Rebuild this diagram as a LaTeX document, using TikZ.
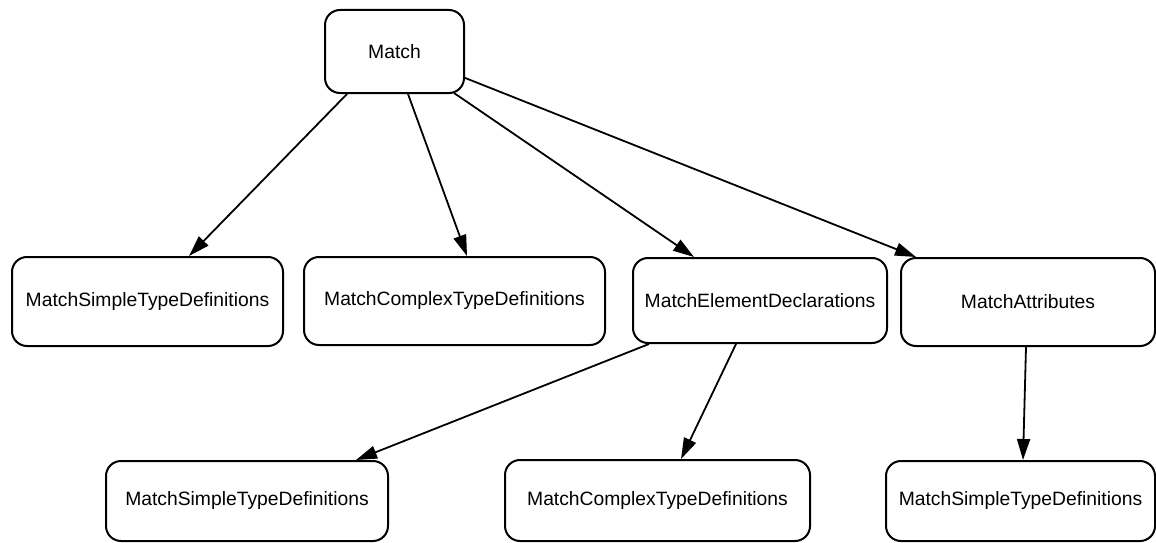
\documentclass[tikz,border=0pt]{standalone}
\usepackage{fontspec}
\setmainfont{Liberation Sans}
\usetikzlibrary{arrows.meta,calc}

\tikzset{
  box/.style={draw=black, line width=2pt, rounded corners=15pt,
              inner sep=0pt, font=\fontsize{19.3}{22}\selectfont,
              align=center},
  link/.style={line width=1.8pt, -{Triangle[length=21pt,width=13pt]}}
}

\begin{document}
\begin{tikzpicture}[x=1pt,y=-1pt]
  \useasboundingbox (0,0) rectangle (1156,543);

  % root
  \node[box, minimum width=139pt, minimum height=83pt] (m) at (394.5,51.5) {Match};

  % second level
  \node[box, minimum width=271pt, minimum height=89pt] (s1) at (147.5,301.5) {MatchSimpleTypeDefinitions};
  \node[box, minimum width=301pt, minimum height=88pt] (c1) at (454.5,301) {MatchComplexTypeDefinitions};
  \node[box, minimum width=254pt, minimum height=85pt] (e1) at (760,300.5) {MatchElementDeclarations};
  \node[box, minimum width=254pt, minimum height=88pt] (a1) at (1028,302) {MatchAttributes};

  % third level
  \node[box, minimum width=282pt, minimum height=80pt] (s2) at (247,501) {MatchSimpleTypeDefinitions};
  \node[box, minimum width=305pt, minimum height=81pt] (c2) at (657.5,500.5) {MatchComplexTypeDefinitions};
  \node[box, minimum width=269pt, minimum height=80pt] (s3) at (1020.5,501) {MatchSimpleTypeDefinitions};

  % connectors
  \draw[link] ($(m.south west)+(23,0)$) -- ($(s1.north west)+(178,0)$);
  \draw[link] ($(m.south west)+(84,0)$) -- ($(c1.north west)+(164,0)$);
  \draw[link] ($(m.south east)+(-11,-1)$) -- ($(e1.north west)+(62,0)$);
  \draw[link] ($(m.east)+(-1,26)$) -- ($(a1.north west)+(16,0)$);

  \draw[link] ($(e1.south west)+(17,0)$) -- ($(s2.north west)+(251,0)$);
  \draw[link] ($(e1.south west)+(104,0)$) -- ($(c2.north west)+(177,0)$);
  \draw[link] ($(a1.south west)+(126,0)$) -- ($(s3.north west)+(138,0)$);
\end{tikzpicture}
\end{document}
